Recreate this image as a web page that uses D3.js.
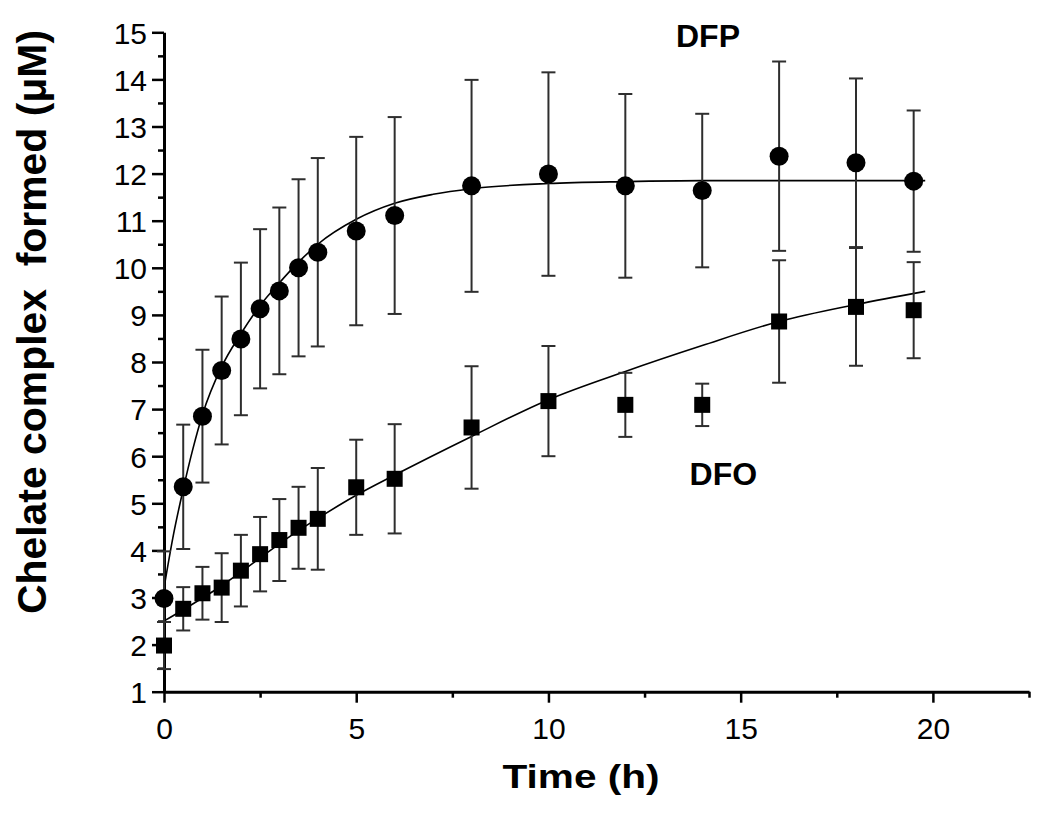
<!DOCTYPE html>
<html>
<head>
<meta charset="utf-8">
<script src="https://cdn.jsdelivr.net/npm/d3@7"></script>
<style>
  html, body { margin: 0; padding: 0; background: #fff; }
  svg { display: block; font-family: "Liberation Sans", Arial, sans-serif; }
</style>
</head>
<body>
<svg id="chart" width="1050" height="816"></svg>
<script>
// ---- Data ----
const times = [0, 0.5, 1, 1.5, 2, 2.5, 3, 3.5, 4, 5, 6, 8, 10, 12, 14, 16, 18, 19.5];

const dfpMean = [2.98, 5.35, 6.85, 7.82, 8.49, 9.13, 9.51, 10.0, 10.33, 10.78, 11.11, 11.74, 11.99, 11.74, 11.64, 12.37, 12.23, 11.84];
const dfpErr  = [1.0, 1.32, 1.41, 1.57, 1.62, 1.69, 1.77, 1.88, 2.0, 2.0, 2.09, 2.25, 2.16, 1.95, 1.63, 2.01, 1.79, 1.5];

const dfoMean = [1.98, 2.76, 3.09, 3.21, 3.57, 3.92, 4.22, 4.48, 4.67, 5.34, 5.52, 6.61, 7.17, 7.09, 7.09, 8.86, 9.17, 9.10];
const dfoErr  = [0.5, 0.46, 0.56, 0.73, 0.76, 0.79, 0.87, 0.87, 1.08, 1.01, 1.16, 1.3, 1.17, 0.68, 0.45, 1.3, 1.25, 1.02];

// fitted curves
const dfpFitT = [0, 0.25, 0.5, 0.75, 1, 1.5, 2, 2.5, 3, 3.5, 4, 5, 6, 7, 8, 10, 12, 14, 16, 18, 19.8];
const dfpFitY = [3.2, 4.35, 5.3, 6.15, 6.88, 7.9, 8.6, 9.2, 9.68, 10.12, 10.5, 11.03, 11.37, 11.56, 11.68, 11.79, 11.83, 11.85, 11.85, 11.85, 11.85];

const dfoFitT = [0, 0.5, 1, 1.5, 2, 2.5, 3, 3.5, 4, 5, 6, 8, 10, 12, 14, 16, 18, 19.8];
const dfoFitY = [2.5, 2.74, 2.99, 3.25, 3.54, 3.84, 4.14, 4.42, 4.68, 5.17, 5.6, 6.42, 7.2, 7.8, 8.35, 8.86, 9.22, 9.5];

const xMajorTicks = [0, 5, 10, 15, 20];
const xMinorTicks = [2.5, 7.5, 12.5, 17.5, 22.5];
const yMajorTicks = [1, 2, 3, 4, 5, 6, 7, 8, 9, 10, 11, 12, 13, 14, 15];
const yMinorTicks = [1.5, 2.5, 3.5, 4.5, 5.5, 6.5, 7.5, 8.5, 9.5, 10.5, 11.5, 12.5, 13.5, 14.5];

const xTitle = "Time (h)";
const yTitle = "Chelate complex  formed (\u03BCM)";
const seriesLabels = [{name: "DFP", t: 14.15, y: 14.69}, {name: "DFO", t: 14.55, y: 5.39}];

// ---- Layout ----
const svg = d3.select("#chart");
const x = d3.scaleLinear().domain([0, 22.5]).range([164, 1029]);
const y = d3.scaleLinear().domain([1, 15]).range([691.7, 32.3]);

const ink = "#000";
const barInk = "#2e2e2e";

// Axes
const xAxisG = svg.append("g").attr("transform", `translate(0,${y(1)})`);
xAxisG.call(d3.axisBottom(x).tickValues(xMinorTicks).tickSize(6).tickSizeOuter(0).tickFormat(""));
xAxisG.call(g => g.select(".domain").remove());
const xMajG = svg.append("g").attr("transform", `translate(0,${y(1)})`);
xMajG.call(d3.axisBottom(x).tickValues(xMajorTicks).tickSize(11).tickSizeOuter(0).tickPadding(15).tickFormat(d3.format("d")));

const yAxisG = svg.append("g").attr("transform", `translate(${x(0)},0)`);
yAxisG.call(d3.axisLeft(y).tickValues(yMinorTicks).tickSize(6).tickSizeOuter(0).tickFormat(""));
yAxisG.call(g => g.select(".domain").remove());
const yMajG = svg.append("g").attr("transform", `translate(${x(0)},0)`);
yMajG.call(d3.axisLeft(y).tickValues(yMajorTicks).tickSize(12).tickSizeOuter(0).tickPadding(5).tickFormat(d3.format("d")));

svg.selectAll(".domain").attr("stroke", ink).attr("stroke-width", 3);
svg.selectAll(".tick line").attr("stroke", ink).attr("stroke-width", 2.5);
xMajG.selectAll(".tick text").attr("font-size", 30).attr("fill", ink)
  .attr("font-family", "Liberation Sans, Arial, sans-serif");
yMajG.selectAll(".tick text").attr("font-size", 30).attr("fill", ink)
  .attr("font-family", "Liberation Sans, Arial, sans-serif").attr("dy", "0.36em");

// Axis titles
svg.append("text")
  .attr("x", 581).attr("y", 788)
  .attr("text-anchor", "middle")
  .attr("font-size", 33).attr("font-weight", "bold")
  .attr("textLength", 157).attr("lengthAdjust", "spacingAndGlyphs")
  .text(xTitle);

svg.append("text")
  .attr("transform", "translate(46,322) rotate(-90)")
  .attr("text-anchor", "middle")
  .attr("font-size", 40).attr("font-weight", "bold")
  .style("white-space", "pre")
  .attr("textLength", 584).attr("lengthAdjust", "spacingAndGlyphs")
  .text(yTitle);

// Fit lines
const line = d3.line().x(d => x(d[0])).y(d => y(d[1])).curve(d3.curveMonotoneX);
const fits = [d3.zip(dfpFitT, dfpFitY), d3.zip(dfoFitT, dfoFitY)];
svg.append("g").selectAll("path").data(fits).join("path")
  .attr("d", line).attr("fill", "none").attr("stroke", ink).attr("stroke-width", 1.6);

// Error bars
function errorBars(mean, err) {
  const data = times.map((t, i) => ({t, m: mean[i], e: err[i]}));
  const g = svg.append("g").attr("stroke", barInk).attr("stroke-width", 2).attr("fill", "none");
  g.selectAll("line.v").data(data).join("line").attr("class", "v")
    .attr("x1", d => x(d.t)).attr("x2", d => x(d.t))
    .attr("y1", d => y(d.m - d.e)).attr("y2", d => y(d.m + d.e));
  g.selectAll("line.hi").data(data).join("line").attr("class", "hi")
    .attr("x1", d => x(d.t) - 7).attr("x2", d => x(d.t) + 7)
    .attr("y1", d => y(d.m + d.e)).attr("y2", d => y(d.m + d.e));
  g.selectAll("line.lo").data(data).join("line").attr("class", "lo")
    .attr("x1", d => x(d.t) - 7).attr("x2", d => x(d.t) + 7)
    .attr("y1", d => y(d.m - d.e)).attr("y2", d => y(d.m - d.e));
}
errorBars(dfpMean, dfpErr);
errorBars(dfoMean, dfoErr);

// Markers
svg.append("g").selectAll("circle").data(times.map((t, i) => [t, dfpMean[i]])).join("circle")
  .attr("cx", d => x(d[0])).attr("cy", d => y(d[1])).attr("r", 9.5).attr("fill", ink);

const sq = 16;
svg.append("g").selectAll("rect").data(times.map((t, i) => [t, dfoMean[i]])).join("rect")
  .attr("x", d => x(d[0]) - sq / 2).attr("y", d => y(d[1]) - sq / 2)
  .attr("width", sq).attr("height", sq).attr("fill", ink);

// Series labels
svg.append("g").selectAll("text").data(seriesLabels).join("text")
  .attr("x", d => x(d.t)).attr("y", d => y(d.y))
  .attr("text-anchor", "middle")
  .attr("font-size", 32).attr("font-weight", "bold").attr("fill", ink)
  .text(d => d.name);
</script>
</body>
</html>
